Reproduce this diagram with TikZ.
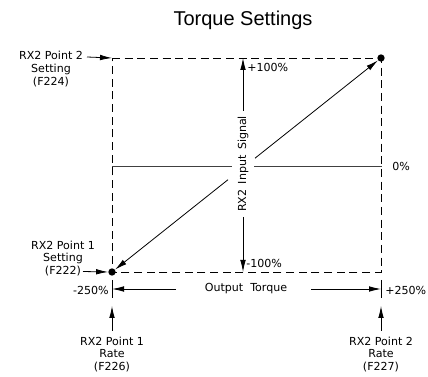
\documentclass[tikz,border=0pt]{standalone}
\usepackage{fontspec}
\setmainfont{DejaVu Sans}
\newfontfamily\titlefont{Liberation Sans}
\usetikzlibrary{arrows.meta}
\tikzset{
  lbl/.style={font=\fontsize{8.3}{9.4}\selectfont, inner sep=0pt, align=center},
  thin line/.style={line width=0.6pt},
  arr/.style={thin line, -{Latex[length=9pt,width=4.2pt]}},
  dashbox/.style={thin line, dash pattern=on 6pt off 3.5pt},
  dot/.style={circle, fill=black, inner sep=0pt, minimum size=5.5pt},
}
\begin{document}
\begin{tikzpicture}[x=0.75pt,y=-0.75pt]
\useasboundingbox (0,0) rectangle (428,377);
% title
\node[font=\titlefont\fontsize{15}{18}\selectfont, inner sep=0pt] (title) at (243,20) {Torque Settings};
% corners
\coordinate (TL) at (112,58);
\coordinate (TR) at (381,58);
\coordinate (BL) at (112,272);
\coordinate (BR) at (381,272);
% dashed box
\draw[dashbox] (TL) -- (TR) -- (BR) -- (BL) -- cycle;
% middle zero line
\coordinate (ML) at (112,166);
\coordinate (MR) at (382,166);
\coordinate (mg1) at (232,166);
\coordinate (mg2) at (254,166);
\draw[thin line, black!75] (ML) -- (mg1);
\draw[thin line, black!75] (mg2) -- (MR);
\node[lbl, anchor=west] (zero) at (392,166) {0\%};
% vertical input signal axis
\coordinate (VT) at (243,58);
\coordinate (VB) at (243,272);
\node[lbl, rotate=90] (vlabel) at (243,164) {RX2\hspace{1.5pt} Input\hspace{1.5pt} Signal};
\coordinate (vg1) at (243,111);
\coordinate (vg2) at (243,217);
\draw[arr] (vg1) -- (VT);
\draw[arr] (vg2) -- (VB);
\node[lbl, anchor=west] (p100) at (247,67) {+100\%};
\node[lbl, anchor=west] (m100) at (246,263) {-100\%};
% dots
\node[dot] (d1) at (BL) {};
\node[dot] (d2) at (TR) {};
% diagonal
\coordinate (dg1) at (228,179.7);
\coordinate (dg2) at (255,158.2);
\draw[arr] (dg1) -- (d1);
\draw[arr] (dg2) -- (d2);
% top-left label
\node[lbl] (set2) at (51,69) {RX2 Point 2\\Setting\\(F224)};
\coordinate (s2a) at (87,57);
\draw[arr] (s2a) -- (TL);
% bottom-left label
\node[lbl] (set1) at (63,258.5) {RX2 Point 1\\Setting\\(F222)};
\coordinate (s1a) at (83,271.5);
\draw[arr] (s1a) -- (d1.west);
% output torque axis
\coordinate (tkL1) at (112,280);
\coordinate (tkL2) at (112,298);
\coordinate (tkR1) at (381,280);
\coordinate (tkR2) at (381,298);
\draw[thin line] (tkL1) -- (tkL2);
\draw[thin line] (tkR1) -- (tkR2);
\node[lbl] (otq) at (246,289) {Output\ \ Torque};
\coordinate (oL) at (176,289);
\coordinate (oR) at (311,289);
\coordinate (oLt) at (112,289);
\coordinate (oRt) at (381,289);
\draw[arr] (oL) -- (oLt);
\draw[arr] (oR) -- (oRt);
\node[lbl, anchor=east] (m250) at (109,290) {-250\%};
\node[lbl, anchor=west] (p250) at (385,290) {+250\%};
% rate labels
\coordinate (r1b) at (112,331);
\coordinate (r1t) at (112,306);
\coordinate (r2b) at (381,331);
\coordinate (r2t) at (381,306);
\draw[arr] (r1b) -- (r1t);
\draw[arr] (r2b) -- (r2t);
\node[lbl] (rate1) at (112,354.5) {RX2 Point 1\\Rate\\(F226)};
\node[lbl] (rate2) at (381,354.5) {RX2 Point 2\\Rate\\(F227)};
\end{tikzpicture}
\end{document}
